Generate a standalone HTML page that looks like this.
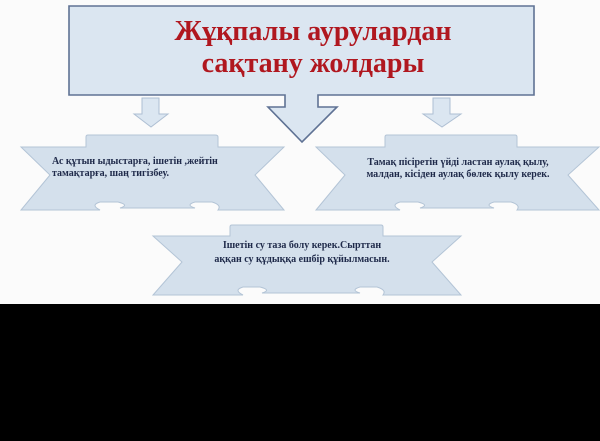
<!DOCTYPE html>
<html><head><meta charset="utf-8"><style>
html,body{margin:0;padding:0;background:#000;}
svg{display:block}
</style></head><body>
<svg width="600" height="441" viewBox="0 0 600 441" xmlns="http://www.w3.org/2000/svg">
<rect x="0" y="0" width="600" height="304" fill="#fbfbfb"/>
<rect x="0" y="304" width="600" height="137" fill="#000"/>
<path d="M69,6 H534 V95 H318 V107 H337 L302,142 L268,107 H285 V95 H69 Z" fill="#dbe6f1" stroke="#5f7294" stroke-width="1.6"/>
<text x="313" y="40" text-anchor="middle" font-family="Liberation Serif, serif" font-weight="bold" font-size="28" fill="#b0171f">Жұқпалы аурулардан</text>
<text x="313" y="72" text-anchor="middle" font-family="Liberation Serif, serif" font-weight="bold" font-size="28" fill="#b0171f">сақтану жолдары</text>
<path d="M142,98 H159 V114 H168 L151,127 L134,114 H142 Z" fill="#dbe6f1" stroke="#aebfd3" stroke-width="1"/>
<path d="M433,98 H450 V114 H461 L442,127 L423,114 H433 Z" fill="#dbe6f1" stroke="#aebfd3" stroke-width="1"/>
<g fill="#d4e0ec" stroke="#b3c4d6" stroke-width="1">
<path d="M21,147 H86 V137 Q86,135 88,135 H215 Q218,135 218,137 V147 H284 L255,175 L284,210 H218 Q222,205 212,202 H195 Q185,205 195,208 H120 Q130,205 118,202 H100 Q90,205 100,210 H21 L50,175 Z"/>
<path d="M316,147 H385 V137 Q385,135 387,135 H515 Q517,135 517,137 V147 H599 L568,175 L599,210 H517 Q521,205 511,202 H494 Q484,205 494,208 H420 Q430,205 418,202 H400 Q390,205 400,210 H316 L345,175 Z"/>
<path d="M153,236 H230 V227 Q230,225 232,225 H381 Q383,225 383,227 V236 H461 L432,262 L461,295 H383 Q387,290 377,287 H360 Q350,290 360,293 H262 Q272,290 260,287 H243 Q233,290 243,295 H153 L182,262 Z"/>
</g>
<g font-family="Liberation Serif, serif" font-weight="bold" font-size="10" fill="#1f2a4a">
<text x="52" y="164">Ас құтын ыдыстарға, ішетін ,жейтін</text>
<text x="52" y="176">тамақтарға, шаң тигізбеу.</text>
<text x="458" y="165" text-anchor="middle">Тамақ пісіретін үйді ластан аулақ қылу,</text>
<text x="458" y="177" text-anchor="middle">малдан, кісіден аулақ бөлек қылу керек.</text>
<text x="302" y="248" text-anchor="middle">Ішетін су таза болу керек.Сырттан</text>
<text x="302" y="262" text-anchor="middle">аққан су  құдыққа ешбір құйылмасын.</text>
</g>
</svg>
</body></html>
